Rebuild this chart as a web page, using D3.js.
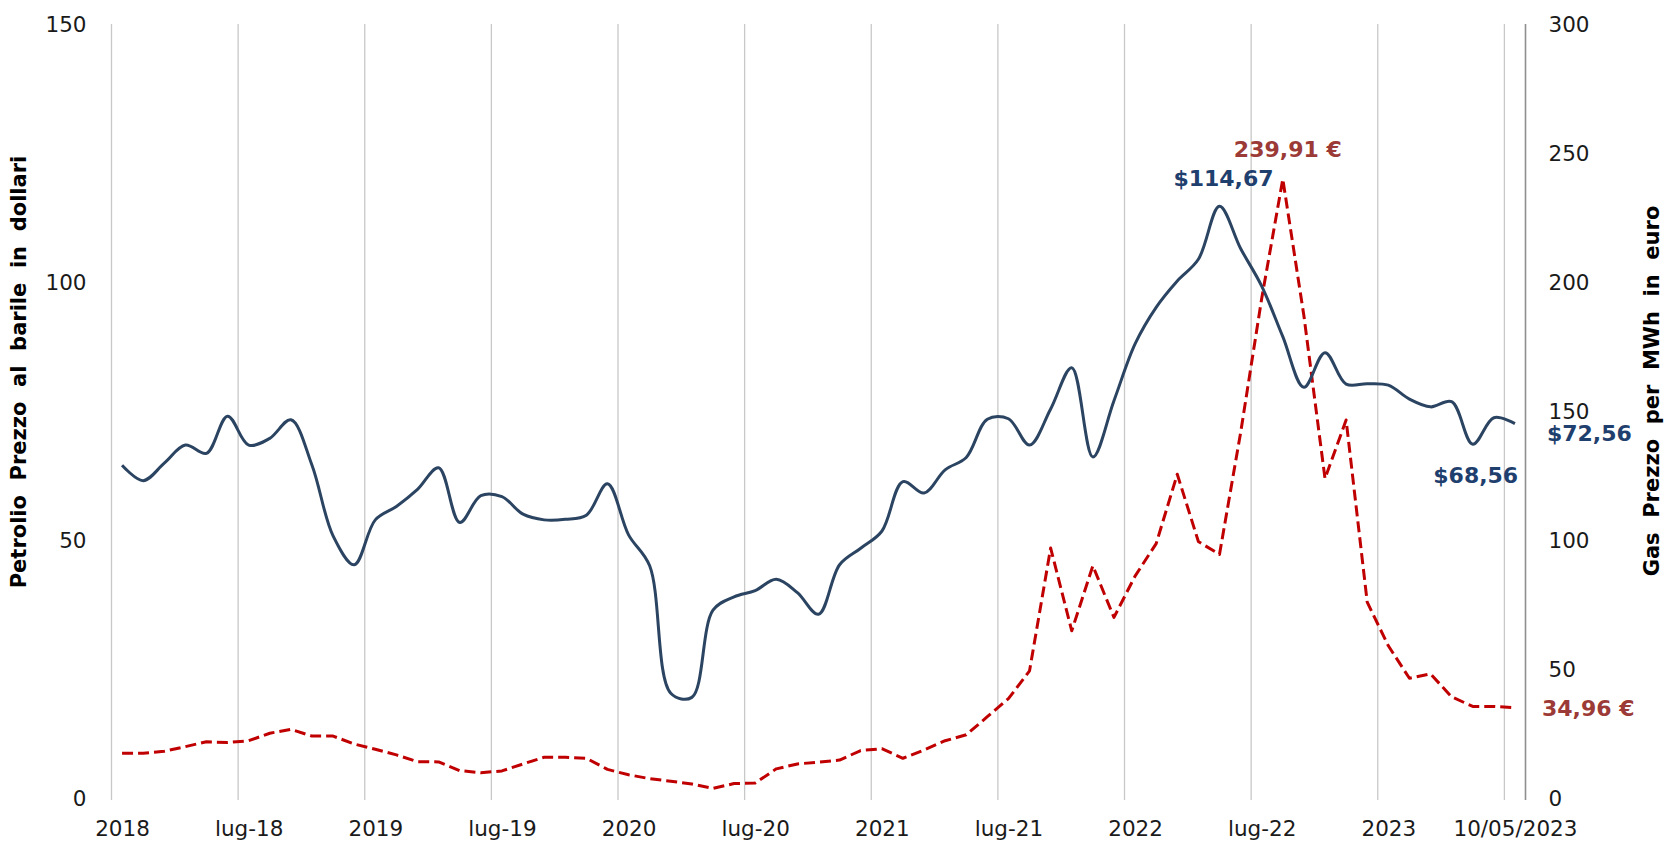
<!DOCTYPE html>
<html>
<head>
<meta charset="utf-8">
<script src="https://cdn.jsdelivr.net/npm/d3@7"></script>
<style>
  body { margin: 0; background: #fff; }
  text { font-family: "DejaVu Sans", Verdana, sans-serif; white-space: pre; }
</style>
</head>
<body>
<div id="chart"></div>
<script>
// =========================
// DATA
// =========================
// one value per category (67 categories, Jan 2018 -> 10/05/2023)
const oilPrice = [
  64.5, 61.5, 64.9, 68.4, 66.8, 74.0, 68.4, 69.7, 73.3, 64.5,
  50.8, 45.2, 53.9, 56.5, 59.8, 64.0, 53.4, 58.6, 58.4, 55.0,
  53.9, 54.0, 54.8, 60.9, 51.0, 45.0, 20.3, 19.5, 36.4, 39.0,
  40.2, 42.4, 39.8, 35.6, 45.2, 48.4, 51.7, 61.3, 59.1, 63.6,
  66.0, 73.4, 73.5, 68.4, 75.4, 83.4, 66.1, 77.0, 88.0, 95.1,
  100.2, 104.4, 114.67, 106.5, 99.2, 89.4, 79.6, 86.3, 80.2, 80.3,
  80.0, 77.3, 75.8, 76.8, 68.56, 73.7, 72.56
];

const gasPrice = [
  17.3, 17.3, 18.1, 19.9, 21.8, 21.5, 22.2, 25.1, 26.6, 24.0,
  24.0, 20.9, 18.9, 16.7, 14.1, 14.0, 10.6, 9.8, 10.5, 13.2,
  15.8, 15.8, 15.4, 11.1, 9.0, 7.5, 6.5, 5.4, 3.7, 5.6,
  5.8, 11.3, 13.2, 13.9, 14.7, 18.4, 19.1, 15.4, 18.6, 22.2,
  24.5, 31.5, 38.5, 49.3, 96.9, 64.8, 90.0, 70.0, 86.0, 98.6,
  125.5, 99.4, 94.4, 141.5, 193.6, 239.91, 186.9, 123.8, 146.5, 75.9,
  59.0, 46.4, 48.1, 39.2, 35.5, 35.5, 34.96
];

const tickIndex = [0, 6, 12, 18, 24, 30, 36, 42, 48, 54, 60, 66];
const tickLabels = ["2018", "lug-18", "2019", "lug-19", "2020", "lug-20",
                    "2021", "lug-21", "2022", "lug-22", "2023", "10/05/2023"];

const oilTicks = [0, 50, 100, 150];
const gasTicks = [0, 50, 100, 150, 200, 250, 300];

const oilNoteIndex = [52, 64, 66];
const oilNoteText = ["$114,67", "$68,56", "$72,56"];
const gasNoteIndex = [55, 66];
const gasNoteText = ["239,91 €", "34,96 €"];

// =========================
// SETUP
// =========================
const W = 1667, H = 842;
const plotLeft = 111.5, plotRight = 1525.5, plotTop = 24, plotBottom = 798;

const svg = d3.select("#chart")
  .append("svg")
  .attr("width", W)
  .attr("height", H);

const x = d3.scaleLinear().domain([0, oilPrice.length]).range([plotLeft, plotRight]);
const yOil = d3.scaleLinear().domain([0, 150]).range([plotBottom, plotTop]);
const yGas = d3.scaleLinear().domain([0, 300]).range([plotBottom, plotTop]);

const oilColor = "#2b4462";
const gasColor = "#c00000";

// =========================
// GRID
// =========================
svg.append("g")
  .selectAll("line")
  .data(tickIndex)
  .enter()
  .append("line")
  .attr("x1", d => x(d))
  .attr("x2", d => x(d))
  .attr("y1", plotTop)
  .attr("y2", plotBottom + 2)
  .attr("stroke", "#c8c8c8")
  .attr("stroke-width", 1.3);

// right axis line
svg.append("line")
  .attr("x1", x(oilPrice.length))
  .attr("x2", x(oilPrice.length))
  .attr("y1", plotTop)
  .attr("y2", plotBottom + 2)
  .attr("stroke", "#8e8e8e")
  .attr("stroke-width", 1.6);

// =========================
// AXES
// =========================
const xAxis = svg.append("g")
  .attr("transform", `translate(0,${plotBottom})`)
  .call(d3.axisBottom(x)
    .tickValues(tickIndex.map(d => d + 0.5))
    .tickFormat((d, i) => tickLabels[i])
    .tickSize(0));
xAxis.select(".domain").remove();
xAxis.selectAll("text")
  .attr("y", 30)
  .attr("dy", null)
  .attr("dominant-baseline", "central")
  .style("font-size", "21.5px")
  .style("fill", "#1a1a1a");

const yLeft = svg.append("g")
  .attr("transform", `translate(${plotLeft},0)`)
  .call(d3.axisLeft(yOil).tickValues(oilTicks).tickSize(0).tickPadding(25));
yLeft.select(".domain").remove();
yLeft.selectAll("text")
  .attr("dy", null)
  .attr("dominant-baseline", "central")
  .style("font-size", "21.5px")
  .style("fill", "#1a1a1a");

const yRight = svg.append("g")
  .attr("transform", `translate(${plotRight},0)`)
  .call(d3.axisRight(yGas).tickValues(gasTicks).tickSize(0).tickPadding(23));
yRight.select(".domain").remove();
yRight.selectAll("text")
  .attr("dy", null)
  .attr("dominant-baseline", "central")
  .style("font-size", "21.5px")
  .style("fill", "#1a1a1a");

// =========================
// LINES
// =========================
const gasLine = d3.line()
  .x((d, i) => x(i + 0.5))
  .y(d => yGas(d));

const oilLine = d3.line()
  .x((d, i) => x(i + 0.5))
  .y(d => yOil(d))
  .curve(d3.curveCatmullRom);

svg.append("path")
  .datum(gasPrice)
  .attr("d", gasLine)
  .attr("fill", "none")
  .attr("stroke", gasColor)
  .attr("stroke-width", 3)
  .attr("stroke-linejoin", "round")
  .attr("stroke-dasharray", "11,5");

svg.append("path")
  .datum(oilPrice)
  .attr("d", oilLine)
  .attr("fill", "none")
  .attr("stroke", oilColor)
  .attr("stroke-width", 3);

// =========================
// DATA LABELS
// =========================
const oilOffsets = [[4, -28, "middle"], [3, 31, "middle"], [32, 10, "start"]];
oilNoteIndex.forEach((idx, k) => {
  const [dx, dy, anchor] = oilOffsets[k];
  svg.append("text")
    .attr("x", x(idx + 0.5) + dx)
    .attr("y", yOil(oilPrice[idx]) + dy)
    .attr("text-anchor", anchor)
    .attr("dominant-baseline", "central")
    .style("font-size", "22px")
    .style("font-weight", "bold")
    .style("fill", "#1f3f6e")
    .text(oilNoteText[k]);
});

const gasOffsets = [[5, -30, "middle"], [27, 1, "start"]];
gasNoteIndex.forEach((idx, k) => {
  const [dx, dy, anchor] = gasOffsets[k];
  svg.append("text")
    .attr("x", x(idx + 0.5) + dx)
    .attr("y", yGas(gasPrice[idx]) + dy)
    .attr("text-anchor", anchor)
    .attr("dominant-baseline", "central")
    .style("font-size", "22px")
    .style("font-weight", "bold")
    .style("fill", "#9b3a36")
    .text(gasNoteText[k]);
});

// =========================
// AXIS TITLES
// =========================
svg.append("text")
  .attr("transform", "translate(25.5,372) rotate(-90)")
  .attr("text-anchor", "middle")
  .style("font-size", "21px")
  .style("font-weight", "bold")
  .style("fill", "#000")
  .text("Petrolio  Prezzo  al  barile  in  dollari");

svg.append("text")
  .attr("transform", "translate(1659,391) rotate(-90)")
  .attr("text-anchor", "middle")
  .style("font-size", "21px")
  .style("font-weight", "bold")
  .style("fill", "#000")
  .text("Gas  Prezzo  per  MWh  in  euro");
</script>
</body>
</html>
